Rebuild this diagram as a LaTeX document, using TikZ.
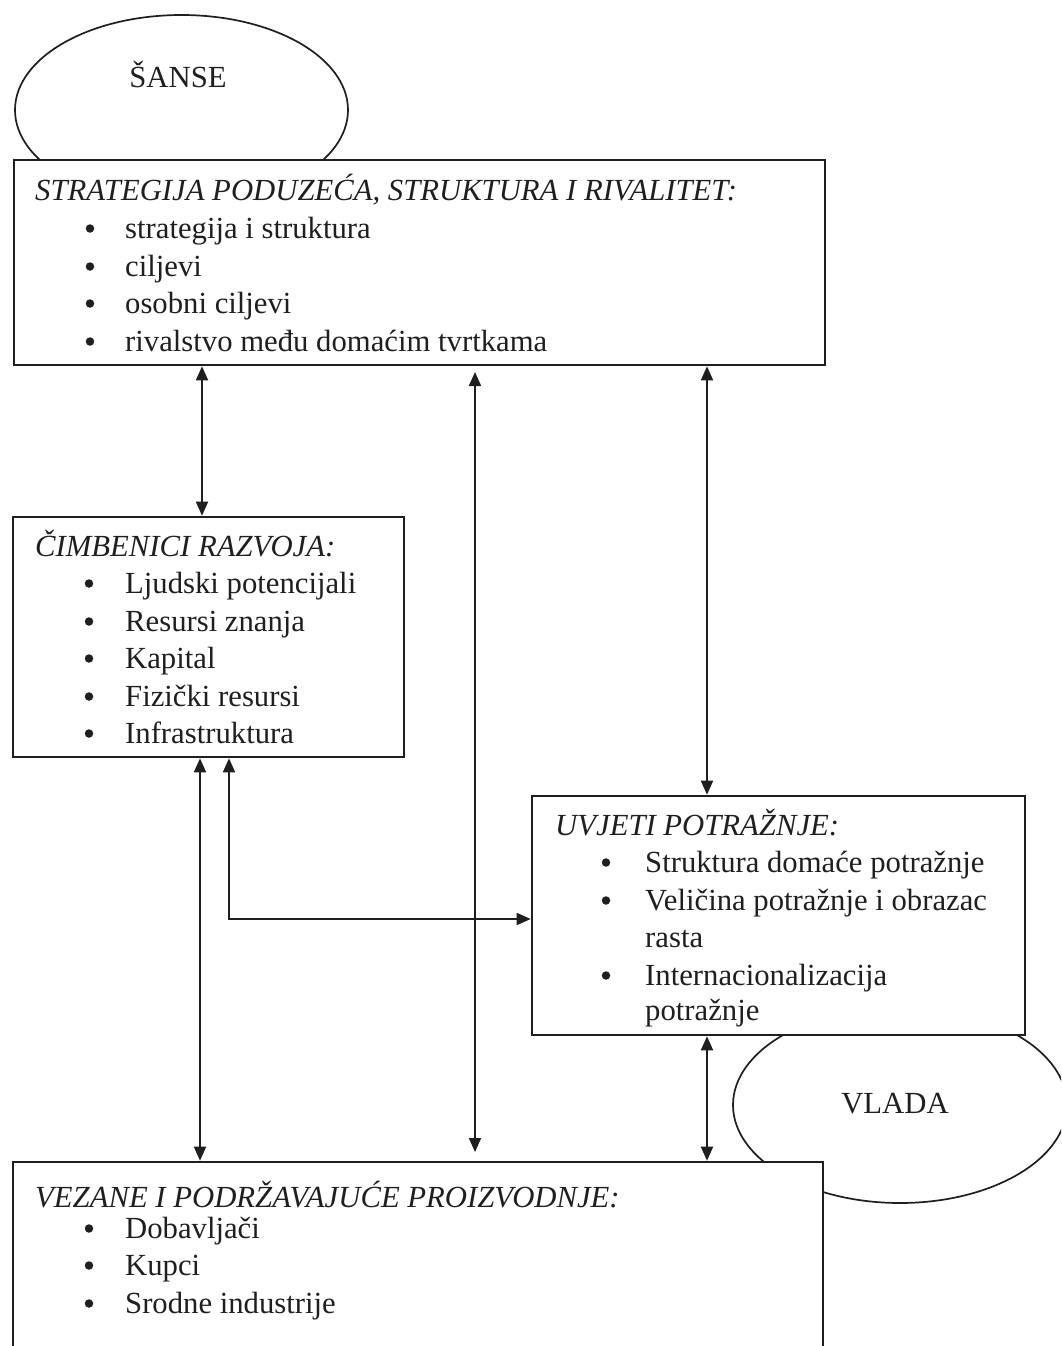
\documentclass[tikz,border=0pt]{standalone}
\usepackage{fontspec}
\setmainfont{Liberation Serif}
\usetikzlibrary{arrows.meta,shapes.geometric}
\newcommand{\bitem}[5]{%
  \node[bul] (#1b) at (#2,#4-9.5) {};
  \node[txt] (#1) at (#3,#4) {#5};}
\begin{document}
\begin{tikzpicture}[x=1pt,y=-1pt,
  box/.style={draw=black!88,line width=2.6pt,fill=white,inner sep=0pt,rectangle},
  oval/.style={draw=black!88,line width=1.7pt,ellipse,inner sep=0pt,fill=white},
  txt/.style={anchor=base west,inner sep=0pt,font=\fontsize{30.7}{36}\selectfont,text=black!88},
  ttl/.style={anchor=base west,inner sep=0pt,font=\fontsize{30.7}{36}\selectfont\itshape,text=black!88},
  bul/.style={circle,fill=black!88,inner sep=0pt,minimum size=8.5pt},
  link/.style={line width=1.8pt,draw=black!88,{Triangle[length=14pt,width=12pt]}-{Triangle[length=14pt,width=12pt]}},
]
\useasboundingbox (0,0) rectangle (1061,1346);
\clip (0,0) rectangle (1061,1346);
\fill[white] (0,0) rectangle (1061,1346);

% ellipses (behind boxes)
\node[oval,minimum width=333pt,minimum height=190pt] (sanse) at (181.5,110) {};
\node[txt,anchor=base] (sansetxt) at (178,87) {ŠANSE};
\node[oval,minimum width=334pt,minimum height=196pt] (vlada) at (900,1105) {};

% boxes
\node[box,minimum width=811pt,minimum height=205pt] (strat) at (419.5,262.5) {};
\node[box,minimum width=391pt,minimum height=240pt] (razvoj) at (208.5,637) {};
\node[box,minimum width=493pt,minimum height=239pt] (uvjeti) at (778.5,915.5) {};
\node[box,minimum width=810pt,minimum height=200pt] (vezane) at (418,1262) {};

\node[txt,anchor=base] (vladatxt) at (895,1113) {VLADA};

% box 1
\node[ttl] (t1) at (35,200) {STRATEGIJA PODUZEĆA, STRUKTURA I RIVALITET:};
\bitem{s1}{90}{125}{238}{strategija i struktura}
\bitem{s2}{90}{125}{276}{ciljevi}
\bitem{s3}{90}{125}{313}{osobni ciljevi}
\bitem{s4}{90}{125}{351}{rivalstvo među domaćim tvrtkama}

% box 2
\node[ttl] (t2) at (35,556) {ČIMBENICI RAZVOJA:};
\bitem{r1}{89}{125}{593}{Ljudski potencijali}
\bitem{r2}{89}{125}{631}{Resursi znanja}
\bitem{r3}{89}{125}{668}{Kapital}
\bitem{r4}{89}{125}{706}{Fizički resursi}
\bitem{r5}{89}{125}{743}{Infrastruktura}

% box 3
\node[ttl] (t3) at (555,835) {UVJETI POTRAŽNJE:};
\bitem{u1}{606}{645}{872}{Struktura domaće potražnje}
\bitem{u2}{606}{645}{910}{Veličina potražnje i obrazac}
\node[txt] (u2b2) at (645,947) {rasta};
\bitem{u3}{606}{645}{985}{Internacionalizacija}
\node[txt] (u3b2) at (645,1020) {potražnje};

% box 4
\node[ttl] (t4) at (35,1207) {VEZANE I PODRŽAVAJUĆE PROIZVODNJE:};
\bitem{v1}{89}{125}{1238}{Dobavljači}
\bitem{v2}{89}{125}{1275}{Kupci}
\bitem{v3}{89}{125}{1313}{Srodne industrije}

% connectors
\coordinate (a2top) at (475,372);
\coordinate (a2bot) at (475,1152);
\coordinate (elbow) at (229,919);
\draw[link] (202,0 |- strat.south) -- (202,0 |- razvoj.north);
\draw[link] (a2top) -- (a2bot);
\draw[link] (707,0 |- strat.south) -- (707,0 |- uvjeti.north);
\draw[link] (200,0 |- razvoj.south) -- (200,0 |- vezane.north);
\draw[link] (229,0 |- razvoj.south) -- (elbow) -- (elbow -| uvjeti.west);
\draw[link] (707,0 |- uvjeti.south) -- (707,0 |- vezane.north);
\end{tikzpicture}
\end{document}
